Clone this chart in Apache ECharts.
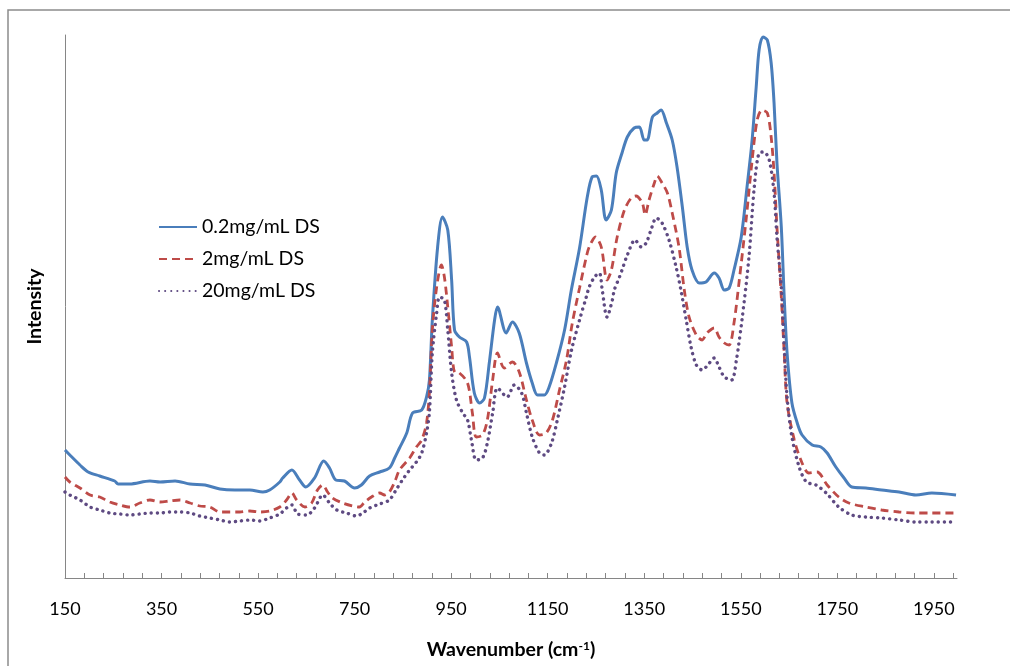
<!DOCTYPE html>
<html lang="en">
<head>
  <meta charset="utf-8">
  <style>
    html, body { margin: 0; padding: 0; background: #fff; }
    #container { width: 1010px; height: 666px; }
  </style>
</head>
<body>
  <div id="container"></div>
  <script src="https://cdn.jsdelivr.net/npm/echarts@6/dist/echarts.min.js"></script>
  <script>
    // spectra: [wavenumber, intensity (arbitrary units)]
    const seriesNames = ['0.2mg/mL DS', '2mg/mL DS', '20mg/mL DS'];

    const blueData = [
      [150,128],[160,123],[181,113],[198,106],[222,102],[253,97],[260,94],[284,94],[326,97],[347,96],
      [378,97],[409,94],[440,93],[471,89],[502,88],[533,88],[560,86],[574,88],[595,96],[601,100],
      [620,108],[636,98],[649,91],[667,100],[686,117],[698,110],[711,98],[729,97],[750,90],[764,93],
      [781,102],[802,106],[822,110],[833,120],[843,130],[858,145],[870,165],[889,168],[899,181],[905,198],
      [911,258],[922,331],[932,361],[943,348],[951,298],[957,248],[967,241],[982,236],[988,221],[998,185],
      [1009,175],[1019,180],[1029,215],[1040,258],[1046,271],[1064,245],[1077,256],[1091,245],[1106,215],[1118,195],
      [1129,183],[1143,183],[1153,191],[1168,215],[1185,248],[1199,288],[1216,330],[1232,381],[1242,401],[1251,402],
      [1261,388],[1271,358],[1282,368],[1292,405],[1304,425],[1315,441],[1329,450],[1340,451],[1350,438],[1356,438],
      [1367,461],[1377,465],[1385,468],[1396,455],[1408,438],[1418,411],[1429,371],[1439,331],[1449,308],[1464,295],
      [1478,296],[1495,305],[1505,300],[1516,288],[1526,290],[1536,308],[1551,341],[1563,391],[1573,435],[1582,491],
      [1588,528],[1596,541],[1605,538],[1613,515],[1619,475],[1625,415],[1634,351],[1640,281],[1646,225],[1656,175],
      [1667,155],[1677,143],[1698,133],[1716,131],[1729,125],[1747,111],[1764,100],[1780,91],[1809,90],[1842,88],
      [1878,86],[1913,83],[1946,85],[1996,83]
    ];

    const redData = [
      [150,101],[160,96],[181,90],[202,83],[222,81],[243,76],[264,73],[284,71],[305,75],[326,78],
      [347,76],[367,77],[388,78],[409,75],[429,72],[450,71],[471,66],[491,66],[512,66],[533,67],
      [553,66],[574,67],[595,71],[609,78],[620,85],[630,78],[647,71],[661,75],[673,88],[684,93],
      [694,86],[704,80],[725,75],[746,72],[760,71],[771,76],[785,81],[802,85],[812,83],[822,86],
      [833,96],[843,108],[864,120],[878,131],[889,138],[899,155],[905,186],[911,248],[920,291],[930,313],
      [936,301],[943,271],[951,231],[957,206],[967,205],[984,195],[994,165],[1002,141],[1015,143],[1025,158],
      [1036,198],[1046,225],[1060,210],[1077,216],[1091,206],[1106,178],[1118,158],[1133,143],[1147,145],[1160,158],
      [1174,187],[1189,218],[1201,255],[1216,290],[1230,321],[1236,331],[1249,341],[1261,331],[1273,298],[1282,308],
      [1294,341],[1309,368],[1323,380],[1333,382],[1346,375],[1352,363],[1360,378],[1371,395],[1377,402],[1387,395],
      [1398,385],[1408,365],[1422,331],[1433,288],[1443,261],[1458,243],[1470,238],[1480,245],[1495,250],[1505,241],
      [1516,235],[1526,233],[1536,255],[1547,298],[1561,358],[1573,415],[1584,458],[1594,468],[1605,465],[1613,441],
      [1619,405],[1625,351],[1634,281],[1640,225],[1646,175],[1661,138],[1677,115],[1691,105],[1708,106],[1729,93],
      [1753,81],[1774,75],[1809,71],[1842,68],[1878,66],[1913,65],[1946,65],[1996,65]
    ];

    const purpleData = [
      [150,86],[160,83],[181,78],[202,71],[222,68],[243,65],[264,64],[284,63],[305,64],[326,65],
      [347,65],[367,66],[388,66],[409,65],[429,62],[450,60],[471,58],[491,56],[512,57],[533,58],
      [553,57],[574,60],[595,64],[609,70],[620,73],[632,64],[651,63],[667,70],[684,83],[698,75],
      [713,68],[733,65],[754,62],[767,65],[781,70],[802,74],[822,78],[837,89],[849,98],[864,108],
      [878,116],[889,125],[899,145],[905,166],[911,225],[920,265],[926,281],[936,278],[943,248],[951,205],
      [961,178],[974,165],[984,158],[992,138],[1002,118],[1015,120],[1025,135],[1036,165],[1046,190],[1066,181],
      [1081,193],[1096,185],[1106,165],[1118,141],[1133,125],[1143,123],[1158,135],[1170,158],[1185,191],[1199,227],
      [1216,258],[1230,281],[1236,291],[1247,301],[1257,305],[1263,288],[1273,261],[1284,278],[1288,288],[1298,300],
      [1304,308],[1315,323],[1331,338],[1344,331],[1354,335],[1364,348],[1375,360],[1387,355],[1402,337],[1416,311],
      [1426,288],[1437,258],[1447,231],[1458,213],[1470,208],[1485,215],[1495,220],[1505,211],[1516,201],[1531,198],
      [1541,218],[1553,260],[1567,321],[1578,391],[1588,425],[1598,426],[1609,418],[1619,385],[1625,341],[1634,291],
      [1640,231],[1646,181],[1656,141],[1671,111],[1686,96],[1706,93],[1727,85],[1753,71],[1780,63],[1809,61],
      [1842,60],[1878,58],[1913,56],[1946,56],[1996,56]
    ];

    const xLabelValues = [150, 350, 550, 750, 950, 1150, 1350, 1550, 1750, 1950];
    const xTickValues = [];
    for (let v = 150; v <= 1990; v += 40) xTickValues.push(v);

    const font = 'Lato, "Open Sans", sans-serif';
    const axisGray = '#868686';

    const chart = echarts.init(document.getElementById('container'));

    chart.setOption({
      animation: false,
      graphic: [{
        type: 'rect',
        shape: { x: 8, y: 10, width: 1020, height: 700 },
        style: { fill: 'none', stroke: '#8c8c8c', lineWidth: 1.5 },
        silent: true
      }],
      grid: { left: 65, right: 53, top: 35, bottom: 88 },
      legend: {
        orient: 'vertical',
        left: 153,
        top: 212,
        itemWidth: 38,
        itemHeight: 12,
        itemGap: 12,
        itemStyle: { opacity: 0 },
        textStyle: { fontFamily: font, fontSize: 19.5, color: '#000' },
        data: seriesNames
      },
      xAxis: {
        type: 'value',
        min: 150,
        max: 1998,
        name: '{t|Wavenumber (cm}{s|-1}{t|)}',
        nameLocation: 'middle',
        nameGap: 62,
        nameTextStyle: {
          rich: {
            t: { fontFamily: font, fontSize: 19.5, fontWeight: 'bold', color: '#000' },
            s: { fontFamily: font, fontSize: 12, fontWeight: 'bold', color: '#000', verticalAlign: 'top', padding: [0, 0, 8, 0] }
          }
        },
        splitLine: { show: false },
        axisLine: { lineStyle: { color: axisGray, width: 1 } },
        axisTick: { inside: true, length: 5, customValues: xTickValues, lineStyle: { color: axisGray } },
        axisLabel: {
          customValues: xLabelValues,
          formatter: v => String(v),
          margin: 22,
          fontFamily: font,
          fontSize: 18,
          color: '#000'
        }
      },
      yAxis: {
        type: 'value',
        min: 0,
        max: 543,
        name: 'Intensity',
        nameLocation: 'middle',
        nameRotate: 90,
        nameGap: 20,
        nameTextStyle: { fontFamily: font, fontSize: 19.5, fontWeight: 'bold', color: '#000' },
        splitLine: { show: false },
        axisLine: { show: true, lineStyle: { color: axisGray, width: 1 } },
        axisTick: { show: false },
        axisLabel: { show: false }
      },
      series: [
        {
          name: seriesNames[0],
          type: 'line',
          data: blueData,
          symbol: 'none',
          smooth: 0.3,
          lineStyle: { color: '#4a7ebb', width: 3 },
          itemStyle: { color: '#4a7ebb' }
        },
        {
          name: seriesNames[1],
          type: 'line',
          data: redData,
          symbol: 'none',
          smooth: 0.3,
          lineStyle: { color: '#be4b48', width: 2.8, type: [8, 5] },
          itemStyle: { color: '#be4b48' }
        },
        {
          name: seriesNames[2],
          type: 'line',
          data: purpleData,
          symbol: 'none',
          smooth: 0.3,
          lineStyle: { color: '#5e4a82', width: 3.4, type: [0.1, 6], cap: 'round' },
          itemStyle: { color: '#5e4a82' }
        }
      ]
    });
  </script>
</body>
</html>
